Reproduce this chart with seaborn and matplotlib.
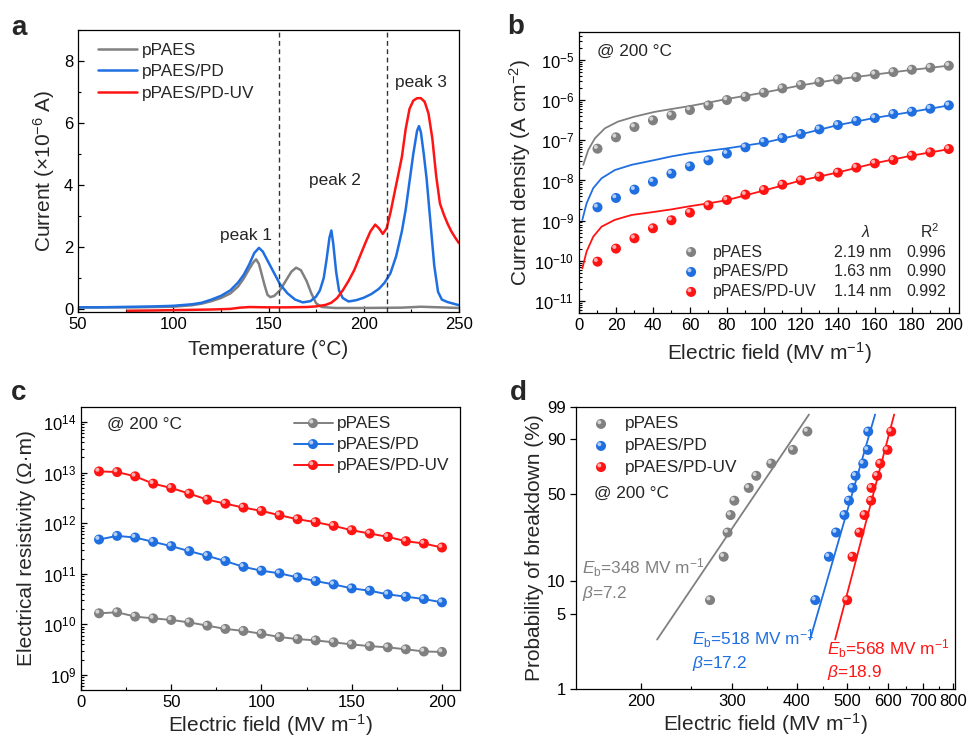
import numpy as np
import matplotlib
matplotlib.use("Agg")
import matplotlib.pyplot as plt
import matplotlib.ticker as mticker
from matplotlib.transforms import offset_copy
import seaborn as sns

# ---- panel a: thermally stimulated current ----
temp_paes = [50, 60, 70, 80, 90, 100, 110, 115, 120, 125, 130, 134, 137, 140, 142, 143.5,
             145, 146.5, 148, 149.5, 151, 153, 156, 159, 162, 164.5, 167, 170, 172.5, 175,
             178, 185, 200, 220, 230, 240, 250]
cur_paes = [0.05, 0.05, 0.05, 0.05, 0.06, 0.07, 0.12, 0.17, 0.25, 0.35, 0.5, 0.72, 0.98, 1.3,
            1.5, 1.6, 1.45, 1.1, 0.75, 0.45, 0.38, 0.42, 0.6, 0.9, 1.2, 1.33, 1.25, 0.9, 0.5,
            0.18, 0.06, 0.03, 0.03, 0.04, 0.07, 0.05, 0.03]
temp_pd = [50, 60, 70, 80, 90, 100, 110, 115, 120, 125, 130, 134, 137, 140, 142.5, 145, 147,
           150, 153, 156, 160, 164, 168, 172, 175, 177, 179, 180.5, 182, 183, 184, 185.5, 187,
           189, 192, 196, 200, 204, 208, 211, 214, 217, 220, 222, 224, 226, 228, 229, 230,
           231.5, 233, 235, 237, 239, 241, 244, 247, 250]
cur_pd = [0.05, 0.05, 0.06, 0.07, 0.08, 0.1, 0.15, 0.2, 0.3, 0.42, 0.6, 0.85, 1.1, 1.45, 1.8,
          1.97, 1.85, 1.5, 1.15, 0.8, 0.5, 0.3, 0.21, 0.25, 0.4, 0.6, 1.0, 1.6, 2.3, 2.53, 2.1,
          1.2, 0.6, 0.35, 0.24, 0.28, 0.36, 0.48, 0.65, 0.85, 1.15, 1.7, 2.5, 3.2, 4.1, 5.0,
          5.75, 5.9, 5.7, 5.0, 4.2, 2.8, 1.4, 0.55, 0.3, 0.22, 0.17, 0.12]
temp_uv = [76, 90, 100, 110, 120, 130, 135, 140, 150, 160, 170, 175, 180, 183, 186, 189, 192,
           195, 198, 201, 203.5, 206, 208, 210, 212, 214, 216, 218, 220, 222, 224, 226, 228,
           230, 232, 234, 236, 238, 240, 242, 244, 246, 248, 250]
cur_uv = [-0.06, -0.05, -0.04, -0.03, -0.02, 0.0, 0.04, 0.06, 0.05, 0.05, 0.06, 0.08, 0.13,
          0.2, 0.35, 0.6, 0.9, 1.25, 1.7, 2.15, 2.5, 2.72, 2.6, 2.42, 2.6, 3.1, 3.7, 4.3, 4.9,
          5.8, 6.45, 6.72, 6.8, 6.8, 6.68, 6.3, 5.5, 4.3, 3.4, 3.05, 2.75, 2.5, 2.3, 2.12]
peak_bounds = [155.5, 212]

# ---- panel b: current density vs field ----
field_pts = [10, 20, 30, 40, 50, 60, 70, 80, 90, 100, 110, 120, 130, 140, 150, 160, 170, 180, 190, 200]
j_paes = [6.2e-8, 1.19e-7, 2.15e-7, 3.15e-7, 4.19e-7, 5.69e-7, 7.43e-7, 1.01e-6, 1.22e-6, 1.54e-6,
          1.97e-6, 2.39e-6, 2.83e-6, 3.30e-6, 3.77e-6, 4.40e-6, 5.02e-6, 5.74e-6, 6.44e-6, 7.22e-6]
j_pd = [2.15e-9, 3.67e-9, 5.91e-9, 9.35e-9, 1.48e-8, 2.25e-8, 3.18e-8, 4.66e-8, 6.70e-8, 9.09e-8,
        1.14e-7, 1.44e-7, 1.88e-7, 2.41e-7, 3.03e-7, 3.60e-7, 4.53e-7, 5.18e-7, 6.14e-7, 7.43e-7]
j_uv = [9.5e-11, 2.01e-10, 3.63e-10, 6.44e-10, 1.02e-9, 1.58e-9, 2.41e-9, 3.27e-9, 4.44e-9, 5.80e-9,
        7.87e-9, 1.01e-8, 1.25e-8, 1.57e-8, 2.09e-8, 2.67e-8, 3.24e-8, 4.15e-8, 5.02e-8, 6.08e-8]
fit_field_paes = [2.3, 5, 8.6, 14, 21, 30, 41, 50, 60, 70, 80, 90, 100, 120, 140, 160, 180, 200]
fit_field = [1.8, 4.1, 7.7, 12.2, 19.4, 28.4, 41, 50, 60, 70, 80, 90, 100, 120, 140, 160, 180, 200]
fit_log_paes = [-7.61, -7.24, -6.95, -6.70, -6.535, -6.41, -6.29, -6.22, -6.145, -6.06, -5.97,
                -5.89, -5.81, -5.63, -5.48, -5.36, -5.245, -5.14]
fit_log_pd = [-8.98, -8.57, -8.19, -7.945, -7.74, -7.61, -7.49, -7.40, -7.32, -7.26, -7.20,
              -7.13, -7.06, -6.85, -6.62, -6.44, -6.29, -6.13]
fit_log_uv = [-10.19, -9.77, -9.40, -9.15, -8.98, -8.86, -8.78, -8.72, -8.64, -8.57, -8.49,
              -8.37, -8.25, -8.00, -7.80, -7.57, -7.38, -7.22]
hop_dist = ["2.19 nm", "1.63 nm", "1.14 nm"]
r_squared = ["0.996", "0.990", "0.992"]

# ---- panel c: resistivity vs field ----
rho_paes = [1.65e10, 1.73e10, 1.42e10, 1.31e10, 1.22e10, 1.09e10, 9.4e9, 8.1e9, 7.4e9, 6.5e9,
            5.6e9, 5.1e9, 4.8e9, 4.4e9, 4.0e9, 3.7e9, 3.5e9, 3.2e9, 2.9e9, 2.84e9]
rho_pd = [4.76e11, 5.62e11, 5.21e11, 4.28e11, 3.52e11, 2.80e11, 2.26e11, 1.78e11, 1.37e11, 1.15e11,
          1.02e11, 8.47e10, 7.17e10, 6.15e10, 5.14e10, 4.62e10, 3.91e10, 3.52e10, 3.16e10, 2.72e10]
rho_uv = [1.06e13, 1.03e13, 8.47e12, 6.07e12, 4.98e12, 3.85e12, 2.93e12, 2.44e12, 2.04e12, 1.75e12,
          1.44e12, 1.20e12, 1.05e12, 8.86e11, 7.27e11, 6.25e11, 5.37e11, 4.41e11, 3.97e11, 3.31e11]

# ---- panel d: Weibull breakdown ----
prob_rank = [6.7, 16.3, 26.0, 35.6, 45.2, 54.8, 64.4, 74.0, 83.7, 93.3]
eb_paes = [272, 289, 294, 298, 303, 323, 334, 357, 393, 419]
eb_pd = [434, 461, 476, 494, 504, 512, 519, 537, 548, 549]
eb_uv = [500, 512, 528, 540, 556, 557, 571, 579, 598, 608]
fit_e = {"pPAES": [215, 422], "pPAES/PD": [424, 566], "pPAES/PD-UV": [474, 616]}
fit_p = [2.9, 98.0]
weibull_text = [("348", "7.2"), ("518", "17.2"), ("568", "18.9")]

names = ["pPAES", "pPAES/PD", "pPAES/PD-UV"]
colors = ["#808080", "#1f6fe0", "#ff1414"]

sns.set_theme(style="ticks")
plt.rcParams["font.family"] = ["Liberation Sans", "DejaVu Sans"]
plt.rcParams["mathtext.fontset"] = "custom"
plt.rcParams["mathtext.rm"] = "Liberation Sans"
plt.rcParams["mathtext.it"] = "Liberation Sans:italic"
plt.rcParams["mathtext.bf"] = "Liberation Sans:bold"
plt.rcParams["axes.edgecolor"] = "black"
plt.rcParams["axes.linewidth"] = 0.9
plt.rcParams["xtick.color"] = "black"
plt.rcParams["ytick.color"] = "black"

FS_TICK = 12
FS_TXT = 12.4
FS_LEG_B = 11.4
FS_LAB = 15


def lighten(c, f=0.6):
    rgb = np.array(matplotlib.colors.to_rgb(c))
    return tuple(rgb + (1 - rgb) * f)


def balls(ax, x, y, color, s=52, transform=None):
    """Shaded sphere markers: base disc plus a small highlight."""
    tr = ax.transData if transform is None else transform
    if transform is None:
        sns.scatterplot(x=x, y=y, ax=ax, color=color, s=s, edgecolor="none", zorder=3, legend=False)
    else:
        ax.scatter(x, y, s=s, color=color, edgecolor="none", transform=tr, zorder=3)
    hi = offset_copy(tr, fig=ax.figure, x=-1.2, y=1.2, units="points")
    ax.scatter(x, y, s=s * 0.16, color=lighten(color, 0.65), edgecolor="none",
               transform=hi, zorder=4)


def style(ax, xdir="in", ydir="in"):
    ax.tick_params(axis="x", which="both", direction=xdir, labelsize=FS_TICK, top=False)
    ax.tick_params(axis="y", which="both", direction=ydir, labelsize=FS_TICK, right=False)
    ax.tick_params(which="major", length=4, width=0.9)
    ax.tick_params(which="minor", length=2.2, width=0.8)
    for sp in ax.spines.values():
        sp.set_visible(True)
        sp.set_color("black")


W, H = 969, 739
fig = plt.figure(figsize=(W / 100, H / 100), dpi=100)


def rect(l, t, r, b):
    return [l / W, 1 - b / H, (r - l) / W, (b - t) / H]


ax_a = fig.add_axes(rect(78, 30, 459, 312))
ax_b = fig.add_axes(rect(579, 32, 959, 313))
ax_c = fig.add_axes(rect(81, 407, 460, 690))
ax_d = fig.add_axes(rect(576, 407, 955, 689))

# ---------------- a ----------------
for t, i, n, c in zip([temp_paes, temp_pd, temp_uv], [cur_paes, cur_pd, cur_uv], names, colors):
    sns.lineplot(x=t, y=i, ax=ax_a, color=c, lw=1.8, label=n, sort=False)
for xb in peak_bounds:
    ax_a.axvline(xb, color="#333333", ls=(0, (3.5, 2.5)), lw=1.0)
ax_a.set_xlim(50, 250)
ax_a.set_ylim(-0.1, 9)
ax_a.xaxis.set_major_locator(mticker.MultipleLocator(50))
ax_a.xaxis.set_minor_locator(mticker.MultipleLocator(25))
ax_a.yaxis.set_major_locator(mticker.MultipleLocator(2))
ax_a.yaxis.set_minor_locator(mticker.MultipleLocator(1))
ax_a.set_xlabel("Temperature (°C)", fontsize=FS_LAB)
ax_a.set_ylabel("Current (×10$^{-6}$ A)", fontsize=FS_LAB)
ax_a.text(138, 2.36, "peak 1", fontsize=FS_TXT, ha="center", va="center")
ax_a.text(185, 4.13, "peak 2", fontsize=FS_TXT, ha="center", va="center")
ax_a.text(230, 7.31, "peak 3", fontsize=FS_TXT, ha="center", va="center")
ax_a.legend(loc="upper left", frameon=False, fontsize=FS_TXT, handlelength=2.25,
            handletextpad=0.3, labelspacing=0.37, borderpad=0.0, borderaxespad=0.0,
            bbox_to_anchor=(0.052, 0.954))
style(ax_a)

# ---------------- b ----------------
fits_b = [(fit_field_paes, fit_log_paes), (fit_field, fit_log_pd), (fit_field, fit_log_uv)]
for (fx, fl), j, c in zip(fits_b, [j_paes, j_pd, j_uv], colors):
    sns.lineplot(x=fx, y=10.0 ** np.array(fl), ax=ax_b, color=c, lw=1.3, sort=False)
    balls(ax_b, field_pts, j, c)
ax_b.set_yscale("log")
ax_b.set_xlim(0, 205.5)
ax_b.set_ylim(5e-12, 5e-5)
ax_b.xaxis.set_major_locator(mticker.MultipleLocator(20))
ax_b.xaxis.set_minor_locator(mticker.MultipleLocator(10))
ax_b.yaxis.set_major_locator(mticker.LogLocator(base=10, numticks=20))
ax_b.yaxis.set_minor_locator(mticker.LogLocator(base=10, subs=np.arange(2, 10), numticks=20))
ax_b.yaxis.set_minor_formatter(mticker.NullFormatter())
ax_b.set_xlabel("Electric field (MV m$^{-1}$)", fontsize=FS_LAB)
ax_b.set_ylabel("Current density (A cm$^{-2}$)", fontsize=FS_LAB)
ax_b.text(0.047, 0.932, "@ 200 °C", transform=ax_b.transAxes, fontsize=FS_TXT, va="center")
ax_b.text(0.755, 0.288, r"$\lambda$", transform=ax_b.transAxes, fontsize=FS_LEG_B, ha="center", va="center")
ax_b.text(0.924, 0.288, "R$^{2}$", transform=ax_b.transAxes, fontsize=FS_LEG_B, ha="center", va="center")
for k, (n, c) in enumerate(zip(names, colors)):
    yy = [0.217, 0.146, 0.075][k]
    balls(ax_b, [0.295], [yy], c, transform=ax_b.transAxes)
    ax_b.text(0.353, yy, n, transform=ax_b.transAxes, fontsize=FS_LEG_B, va="center")
    ax_b.text(0.747, yy, hop_dist[k], transform=ax_b.transAxes, fontsize=FS_LEG_B, ha="center", va="center")
    ax_b.text(0.913, yy, r_squared[k], transform=ax_b.transAxes, fontsize=FS_LEG_B, ha="center", va="center")
style(ax_b)

# ---------------- c ----------------
for r, c in zip([rho_paes, rho_pd, rho_uv], colors):
    sns.lineplot(x=field_pts, y=r, ax=ax_c, color=c, lw=1.4, sort=False)
    balls(ax_c, field_pts, r, c)
ax_c.set_yscale("log")
ax_c.set_xlim(0, 210)
ax_c.set_ylim(10 ** 8.7, 10 ** 14.3)
ax_c.xaxis.set_major_locator(mticker.MultipleLocator(50))
ax_c.xaxis.set_minor_locator(mticker.MultipleLocator(25))
ax_c.yaxis.set_major_locator(mticker.LogLocator(base=10, numticks=20))
ax_c.yaxis.set_minor_locator(mticker.LogLocator(base=10, subs=np.arange(2, 10), numticks=20))
ax_c.yaxis.set_minor_formatter(mticker.NullFormatter())
ax_c.set_xlabel("Electric field (MV m$^{-1}$)", fontsize=FS_LAB)
ax_c.set_ylabel("Electrical resistivity (Ω·m)", fontsize=FS_LAB)
ax_c.text(0.069, 0.940, "@ 200 °C", transform=ax_c.transAxes, fontsize=FS_TXT, va="center")
for k, (n, c) in enumerate(zip(names, colors)):
    yy = [0.943, 0.869, 0.795][k]
    ax_c.plot([0.562, 0.665], [yy, yy], color=c, lw=1.4, transform=ax_c.transAxes)
    balls(ax_c, [0.612], [yy], c, transform=ax_c.transAxes)
    ax_c.text(0.675, yy, n, transform=ax_c.transAxes, fontsize=FS_TXT, va="center")
style(ax_c)


# ---------------- d ----------------
def wb_fwd(p):
    p = np.clip(np.asarray(p, dtype=float), 1e-9, 100 - 1e-9) / 100.0
    return np.log(-np.log(1.0 - p))


def wb_inv(w):
    return 100.0 * (1.0 - np.exp(-np.exp(np.asarray(w, dtype=float))))


ax_d.set_xscale("log")
ax_d.set_yscale("function", functions=(wb_fwd, wb_inv))
for n, e, c in zip(names, [eb_paes, eb_pd, eb_uv], colors):
    sns.lineplot(x=fit_e[n], y=fit_p, ax=ax_d, color=c, lw=1.3, sort=False)
    balls(ax_d, e, prob_rank, c)
ax_d.set_xlim(150, 807)
ax_d.set_ylim(1, 99)
ax_d.xaxis.set_major_locator(mticker.FixedLocator([200, 300, 400, 500, 600, 700, 800]))
ax_d.xaxis.set_major_formatter(mticker.FormatStrFormatter("%d"))
ax_d.xaxis.set_minor_locator(mticker.FixedLocator([250, 350, 450, 550, 650, 750]))
ax_d.xaxis.set_minor_formatter(mticker.NullFormatter())
ax_d.yaxis.set_major_locator(mticker.FixedLocator([1, 5, 10, 50, 90, 99]))
ax_d.yaxis.set_major_formatter(mticker.FormatStrFormatter("%g"))
ax_d.yaxis.set_minor_locator(mticker.NullLocator())
ax_d.set_xlabel("Electric field (MV m$^{-1}$)", fontsize=FS_LAB)
ax_d.set_ylabel("Probability of breakdown (%)", fontsize=FS_LAB)
ax_d.text(0.0475, 0.695, "@ 200 °C", transform=ax_d.transAxes, fontsize=FS_TXT, va="center")
for k, (n, c) in enumerate(zip(names, colors)):
    yy = [0.940, 0.862, 0.787][k]
    balls(ax_d, [0.066], [yy], c, transform=ax_d.transAxes)
    ax_d.text(0.129, yy, n, transform=ax_d.transAxes, fontsize=FS_TXT, va="center")
pos_d = [(0.016, 0.429, 0.340), (0.306, 0.177, 0.089), (0.662, 0.142, 0.057)]
for (eb, beta), (px, py1, py2), c in zip(weibull_text, pos_d, colors):
    ax_d.text(px, py1, r"$E_\mathrm{b}$=" + eb + " MV m$^{-1}$", transform=ax_d.transAxes,
              fontsize=FS_TXT, color=c, va="center")
    ax_d.text(px, py2, r"$\beta$=" + beta, transform=ax_d.transAxes,
              fontsize=FS_TXT, color=c, va="center")
style(ax_d, xdir="in", ydir="out")

# axis-label placement (axes fraction)
for ax, ylx, xly in [(ax_a, -0.055, -0.100), (ax_b, -0.121, -0.097),
                     (ax_c, -0.119, -0.078), (ax_d, -0.085, -0.080)]:
    ax.yaxis.set_label_coords(ylx, 0.5)
    ax.xaxis.set_label_coords(0.5, xly)

for lab, (px, py) in zip("abcd", [(19, 28), (516, 27), (19, 393), (518, 393)]):
    fig.text(px / W, 1 - py / H, lab, fontsize=20, fontweight="bold", ha="center", va="center")

fig.savefig("out.png", dpi=100)
